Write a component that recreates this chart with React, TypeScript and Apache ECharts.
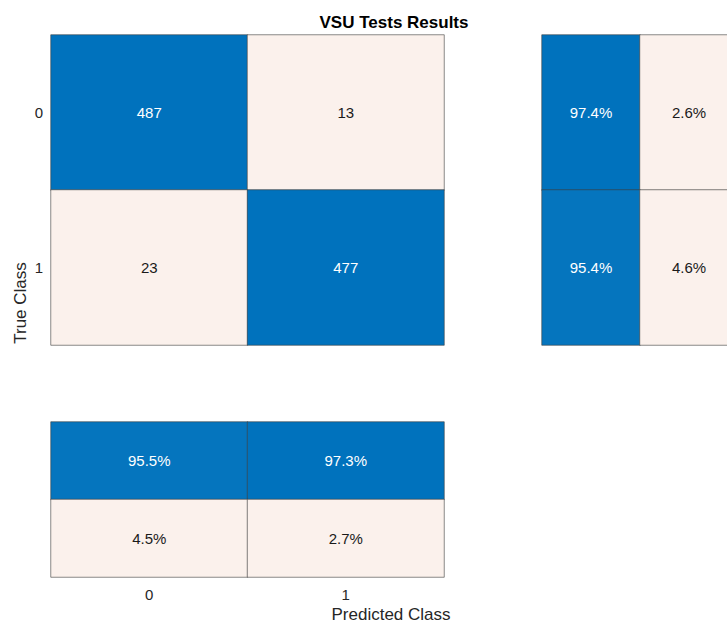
import React, { useEffect, useRef } from "react";
import * as echarts from "echarts";

const classes = ["0", "1"];
const counts = [
  [487, 13],
  [23, 477],
];
const rowSummary = [
  [97.4, 2.6],
  [95.4, 4.6],
];
const colSummary = [
  [95.5, 97.3],
  [4.5, 2.7],
];
const summaryCats = ["correct", "incorrect"];

const FONT = "Liberation Sans, Arial, Helvetica, sans-serif";
const LIGHT = "#FBF1EC";
const BLUE = "#0072BD";

function toCells(m: number[][], hi: number) {
  const out: any[] = [];
  m.forEach((row, r) =>
    row.forEach((v, c) =>
      out.push({
        value: [c, r, v],
        label: { color: v > hi ? "#ffffff" : "#1a1a1a" },
      })
    )
  );
  return out;
}

export default function App() {
  const ref = useRef<HTMLDivElement>(null);
  useEffect(() => {
    if (!ref.current) return;
    const chart = echarts.init(ref.current, undefined, { renderer: "svg" });
    const hiddenAxis = (gi: number, data: string[], inverse = false) => ({
      type: "category",
      gridIndex: gi,
      data,
      inverse,
      axisLine: { show: false },
      axisTick: { show: false },
      axisLabel: { show: false },
      splitLine: { show: false },
    });
    const cellStyle = { borderColor: "#3c3c3c", borderWidth: 0.6 };
    const labelBase = { show: true, fontSize: 15, fontFamily: FONT };
    chart.setOption({
      animation: false,
      backgroundColor: "#ffffff",
      grid: [
        { left: 51, top: 35, width: 393, height: 310 },
        { left: 542, top: 35, width: 196, height: 310 },
        { left: 51, top: 422, width: 393, height: 155 },
      ],
      xAxis: [
        hiddenAxis(0, classes),
        hiddenAxis(1, summaryCats),
        {
          type: "category",
          gridIndex: 2,
          data: classes,
          axisLine: { show: false },
          axisTick: { show: false },
          axisLabel: { fontSize: 15, fontFamily: FONT, color: "#262626", margin: 10 },
        },
      ],
      yAxis: [
        {
          type: "category",
          gridIndex: 0,
          data: classes,
          inverse: true,
          axisLine: { show: false },
          axisTick: { show: false },
          axisLabel: { fontSize: 15, fontFamily: FONT, color: "#262626", margin: 8 },
        },
        hiddenAxis(1, classes, true),
        hiddenAxis(2, summaryCats, true),
      ],
      visualMap: [
        { type: "continuous", show: false, seriesIndex: 0, min: 30, max: 477, inRange: { color: [LIGHT, BLUE] } },
        { type: "continuous", show: false, seriesIndex: 1, min: 5, max: 97.4, inRange: { color: [LIGHT, BLUE] } },
        { type: "continuous", show: false, seriesIndex: 2, min: 5, max: 97.4, inRange: { color: [LIGHT, BLUE] } },
      ],
      series: [
        {
          type: "heatmap",
          xAxisIndex: 0,
          yAxisIndex: 0,
          data: toCells(counts, 250),
          itemStyle: cellStyle,
          label: { ...labelBase, formatter: (p: any) => String(p.value[2]) },
        },
        {
          type: "heatmap",
          xAxisIndex: 1,
          yAxisIndex: 1,
          data: toCells(rowSummary, 50),
          itemStyle: cellStyle,
          label: { ...labelBase, formatter: (p: any) => p.value[2].toFixed(1) + "%" },
        },
        {
          type: "heatmap",
          xAxisIndex: 2,
          yAxisIndex: 2,
          data: toCells(colSummary, 50),
          itemStyle: cellStyle,
          label: { ...labelBase, formatter: (p: any) => p.value[2].toFixed(1) + "%" },
        },
      ],
      graphic: [
        {
          type: "text",
          x: 394,
          y: 22,
          style: {
            text: "VSU Tests Results",
            font: `bold 17px ${FONT}`,
            fill: "#000000",
            textAlign: "center",
            textVerticalAlign: "middle",
          },
        },
        {
          type: "text",
          x: 391,
          y: 614,
          style: {
            text: "Predicted Class",
            font: `17px ${FONT}`,
            fill: "#262626",
            textAlign: "center",
            textVerticalAlign: "middle",
          },
        },
        {
          type: "text",
          x: 20,
          y: 303,
          rotation: Math.PI / 2,
          style: {
            text: "True Class",
            font: `17px ${FONT}`,
            fill: "#262626",
            textAlign: "center",
            textVerticalAlign: "middle",
          },
        },
      ],
    });
    return () => chart.dispose();
  }, []);
  return (
    <div
      ref={ref}
      style={{ position: "fixed", left: 0, top: 0, width: 760, height: 622, background: "#fff" }}
    />
  );
}
